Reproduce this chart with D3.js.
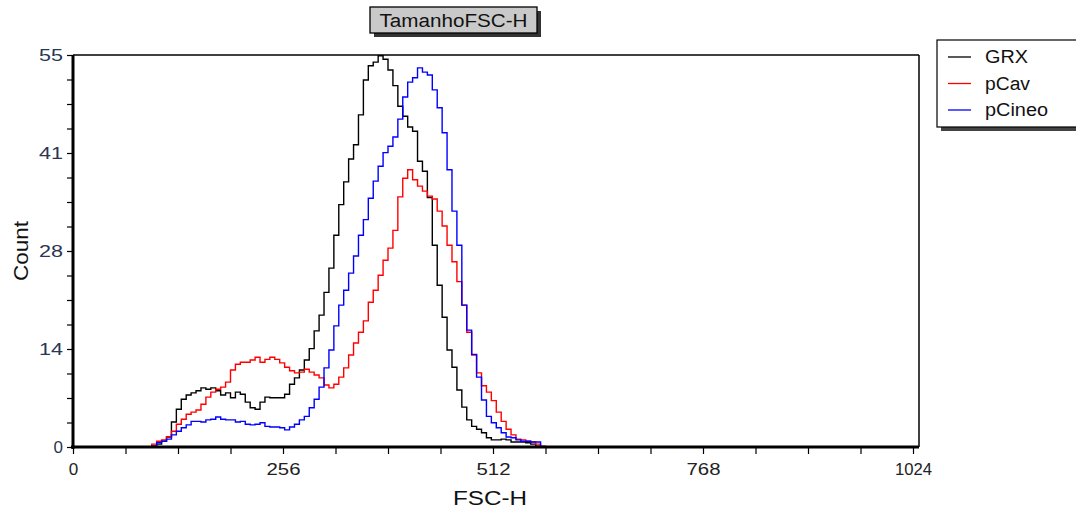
<!DOCTYPE html>
<html>
<head>
<meta charset="utf-8">
<script src="https://cdn.jsdelivr.net/npm/d3@7"></script>
<style>
  html, body { margin: 0; padding: 0; background: #fff; }
  svg { display: block; font-family: "Liberation Sans", Arial, sans-serif; }
</style>
</head>
<body>
<svg id="chart" width="1076" height="513"></svg>
<script>
// ---- data (channel grid, counts) ----
const channels = [90,96,102,108,114,120,126,132,138,144,150,156,162,168,174,180,186,192,198,204,210,216,222,228,234,240,246,252,258,264,270,276,282,288,294,300,306,312,318,324,330,336,342,348,354,360,366,372,378,384,390,396,402,408,414,420,426,432,438,444,450,456,462,468,474,480,486,492,498,504,510,516,522,528,534,540,546,552,558,564,570,576];

const grxCounts = [0,0.1,0.4,0.8,1.4,3.5,5.3,6.7,7.3,7.6,7.9,8.3,8.1,8.3,7.9,7.3,7.6,6.9,7.7,7.4,6.3,5.5,5.3,6.3,7.0,6.9,6.9,6.9,7.4,8.8,9.7,10.8,12.2,13.8,16.3,18.5,21.7,25.1,29.7,34.0,37.2,40.4,42.4,46.6,51.5,53.5,54.0,54.9,54.4,52.9,50.7,47.8,46.4,44.9,44.3,40.1,38.7,35.0,28.3,22.7,18.2,13.6,11.2,8.0,5.6,3.8,2.9,2.5,2.0,1.3,1.0,1.0,1.1,1.0,0.7,0.7,0.7,0.6,0.4,0.1,0,0];

const pCavCounts = [0,0.4,0.8,1.0,1.4,2.2,3.2,3.9,4.6,4.9,5.2,6.0,7.0,7.7,8.1,8.4,9.1,10.8,11.6,11.9,11.9,12.2,12.6,11.9,12.3,12.6,12.3,11.8,11.2,10.7,10.4,10.5,10.9,10.5,10.1,9.7,8.7,8.3,8.8,9.8,11.1,12.9,14.6,16.1,17.7,20.3,22.0,24.1,26.2,27.9,30.4,35.1,37.7,38.9,37.5,36.6,35.9,35.2,34.8,33.1,31.0,28.3,26.0,23.2,19.9,16.1,12.9,10.4,8.6,7.7,6.5,4.9,3.6,2.5,1.7,1.1,1.0,0.8,0.7,0.4,0.1,0];

const pCineoCounts = [0,0.1,0.6,0.8,1.1,1.7,2.2,2.7,3.1,3.6,3.6,3.5,3.8,3.9,4.2,3.9,3.8,3.8,3.5,3.6,3.2,3.1,3.2,3.4,2.9,2.8,2.8,2.7,2.4,2.8,3.2,3.8,4.3,5.5,6.7,8.4,11.1,13.6,17.0,19.9,22.0,24.4,26.8,29.7,31.9,34.9,37.3,39.4,41.3,42.2,43.5,46.0,49.1,51.2,51.8,53.2,52.6,52.2,50.1,47.6,44.1,38.9,33.1,28.3,19.9,16.4,13.0,9.8,6.6,4.3,3.4,2.7,2.0,1.4,1.3,1.0,0.8,0.8,0.7,0.7,0,0];

const seriesNames = ["GRX", "pCav", "pCineo"];
const seriesColors = ["#000000", "#ff0000", "#0000ff"];
const seriesValues = [grxCounts, pCavCounts, pCineoCounts];

const xTickValues = [0, 256, 512, 768, 1024];
const yTickLabels = ["0", "14", "28", "41", "55"];
const chartTitle = "TamanhoFSC-H";
const xTitle = "FSC-H";
const yTitle = "Count";

// ---- layout ----
const svg = d3.select("#chart");
const pL = 73, pR = 913, pT = 55, pB = 447;
const frameRight = 919;

const x = d3.scaleLinear().domain([0, 1024]).range([pL, pR]);
const y = d3.scaleLinear().domain([0, 55]).range([pB, pT]);

// frame top + right (thin)
svg.append("line").attr("x1", pL).attr("x2", frameRight).attr("y1", pT).attr("y2", pT)
  .attr("stroke", "#000").attr("stroke-width", 1.5);
svg.append("line").attr("x1", frameRight).attr("x2", frameRight).attr("y1", pT).attr("y2", pB)
  .attr("stroke", "#000").attr("stroke-width", 1.5);

// curves
const line = d3.line()
  .x((d, i) => x(channels[i]))
  .y(d => y(d))
  .curve(d3.curveStepAfter);

const plot = svg.append("g");
seriesValues.forEach((vals, k) => {
  plot.append("path")
    .datum(vals)
    .attr("d", line)
    .attr("fill", "none")
    .attr("stroke", seriesColors[k])
    .attr("stroke-width", 1.4);
});

// x axis
const xMinor = d3.range(0, 1025, 64);
const xAxis = d3.axisBottom(x).tickValues(xMinor).tickSize(7)
  .tickFormat(d => xTickValues.includes(d) ? d : "");
const gx = svg.append("g").attr("transform", `translate(0,${pB})`).call(xAxis);
gx.select(".domain").attr("d", `M${pL - 2},0H${frameRight}`).attr("stroke-width", 3);
gx.selectAll(".tick line").attr("stroke-width", 1.2);
gx.selectAll(".tick text").attr("font-size", 17).attr("fill", "#222").attr("dy", "1.05em")
  .attr("font-family", "Liberation Sans, Arial, sans-serif")
  .each(function(d) {
    const s = String(d);
    if (s.length > 1) d3.select(this).attr("textLength", s.length === 4 ? 37 : 34).attr("lengthAdjust", "spacingAndGlyphs");
  });

// y axis: 16 evenly spaced ticks, labels every 4th
const yMinor = d3.range(0, 17).map(i => i * 55 / 16);
const yAxis = d3.axisLeft(y).tickValues(yMinor).tickSize(6)
  .tickFormat((d, i) => i % 4 === 0 ? yTickLabels[i / 4] : "");
const gy = svg.append("g").attr("transform", `translate(${pL},0)`).call(yAxis);
gy.select(".domain").attr("d", `M0,${pT}V${pB + 2}`).attr("stroke-width", 3);
gy.selectAll(".tick line").attr("stroke-width", 1.2);
gy.selectAll(".tick text").attr("font-size", 17).attr("fill", "#2a3652").attr("x", -10)
  .attr("font-family", "Liberation Sans, Arial, sans-serif")
  .each(function() {
    const s = d3.select(this).text();
    if (s.length === 2) d3.select(this).attr("textLength", 24).attr("lengthAdjust", "spacingAndGlyphs");
  });

// axis titles
svg.append("text").attr("x", 490).attr("y", 505)
  .attr("text-anchor", "middle").attr("font-size", 20).attr("fill", "#111")
  .attr("textLength", 74).attr("lengthAdjust", "spacingAndGlyphs").text(xTitle);
svg.append("text").attr("transform", "translate(28,251) rotate(-90)")
  .attr("text-anchor", "middle").attr("font-size", 20).attr("fill", "#111")
  .attr("textLength", 60).attr("lengthAdjust", "spacingAndGlyphs").text(yTitle);

// title box
const tb = { x: 370, y: 7, w: 167, h: 26 };
svg.append("rect").attr("x", tb.x + 4).attr("y", tb.y + 4).attr("width", tb.w).attr("height", tb.h)
  .attr("fill", "#333");
svg.append("rect").attr("x", tb.x).attr("y", tb.y).attr("width", tb.w).attr("height", tb.h)
  .attr("fill", "#c9c9c9").attr("stroke", "#000").attr("stroke-width", 1.3);
svg.append("text").attr("x", tb.x + tb.w / 2).attr("y", tb.y + 20)
  .attr("text-anchor", "middle").attr("font-size", 18).attr("fill", "#111")
  .attr("textLength", 148).attr("lengthAdjust", "spacingAndGlyphs").text(chartTitle);

// legend
const lg = { x: 937, y: 40, w: 145, h: 87 };
const legendWidths = [43, 45, 63];
svg.append("rect").attr("x", lg.x + 4).attr("y", lg.y + 4).attr("width", lg.w).attr("height", lg.h)
  .attr("fill", "#444");
svg.append("rect").attr("x", lg.x).attr("y", lg.y).attr("width", lg.w).attr("height", lg.h)
  .attr("fill", "#fff").attr("stroke", "#000").attr("stroke-width", 1.2);
seriesNames.forEach((name, k) => {
  const cy = 57 + k * 26.5;
  svg.append("line").attr("x1", 948).attr("x2", 971).attr("y1", cy).attr("y2", cy)
    .attr("stroke", seriesColors[k]).attr("stroke-width", 1.3);
  svg.append("text").attr("x", 985).attr("y", cy + 6).attr("font-size", 18).attr("fill", "#111")
    .attr("textLength", legendWidths[k]).attr("lengthAdjust", "spacingAndGlyphs").text(name);
});
</script>
</body>
</html>
